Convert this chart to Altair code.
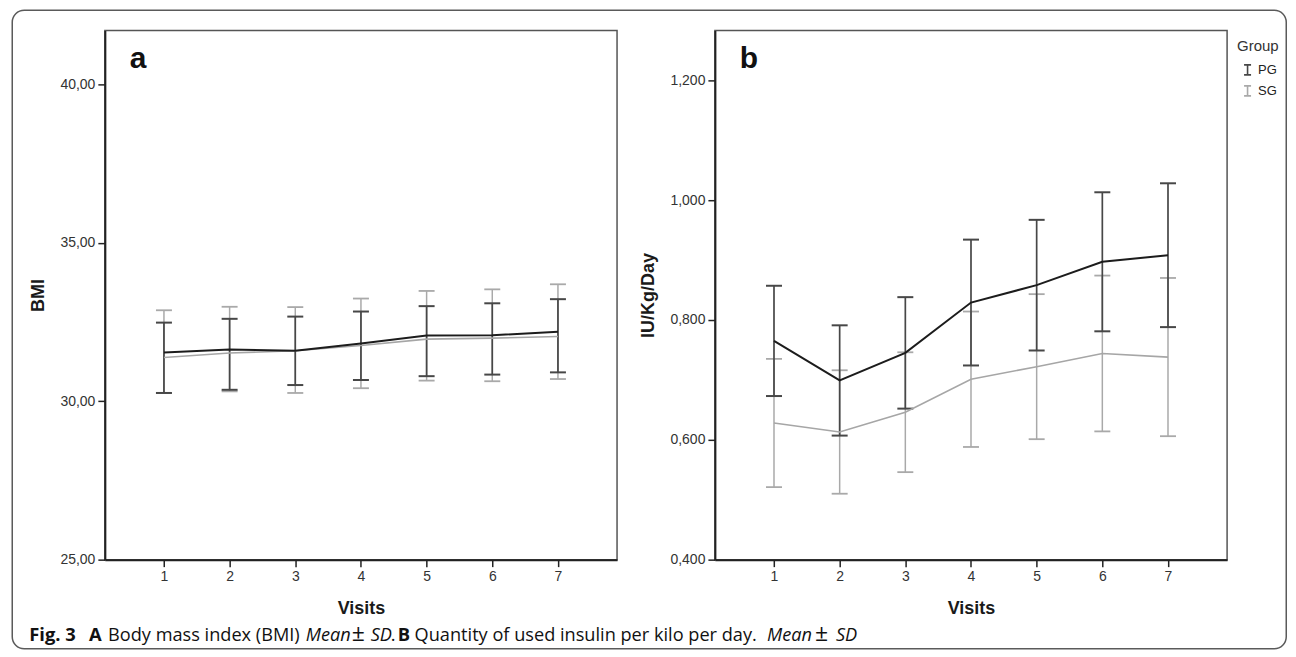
import altair as alt
import pandas as pd

# ---------------- data ----------------
visits = [1, 2, 3, 4, 5, 6, 7]
groups = ["PG", "SG"]

# Panel a: BMI (mean line and error bar ends)
bmi_pg_mean = [31.54, 31.63, 31.59, 31.82, 32.07, 32.08, 32.19]
bmi_pg_low = [30.26, 30.36, 30.51, 30.67, 30.79, 30.84, 30.91]
bmi_pg_high = [32.48, 32.60, 32.67, 32.83, 33.00, 33.09, 33.22]
bmi_sg_mean = [31.38, 31.52, 31.59, 31.76, 31.96, 31.99, 32.04]
bmi_sg_low = [30.26, 30.31, 30.26, 30.41, 30.65, 30.63, 30.70]
bmi_sg_high = [32.87, 32.98, 32.97, 33.24, 33.48, 33.53, 33.69]

# Panel b: IU/Kg/Day (mean and SD)
ins_pg_mean = [0.765, 0.699, 0.745, 0.829, 0.858, 0.897, 0.908]
ins_pg_sd = [0.092, 0.092, 0.093, 0.105, 0.109, 0.116, 0.120]
ins_sg_mean = [0.628, 0.613, 0.646, 0.701, 0.722, 0.744, 0.738]
ins_sg_sd = [0.107, 0.103, 0.100, 0.113, 0.121, 0.130, 0.132]

bmi_ticks = [25, 30, 35, 40]
ins_ticks = [0.4, 0.6, 0.8, 1.0, 1.2]

caption_bold = [("Fig. 3", 27), ("A", 87), ("B", 396)]
caption_regular = [("Body mass index (BMI)", 106),
                   ("Quantity of used insulin per kilo per day.", 413), (".", 389)]
caption_pm = [("\u00b1", 350), ("\u00b1", 814)]
caption_italic = [("Mean", 304), ("SD", 369), ("Mean", 766), ("SD", 835)]

# ---------------- tables ----------------
def table(pg_mean, pg_lo, pg_hi, sg_mean, sg_lo, sg_hi):
    rows = []
    for i, v in enumerate(visits):
        rows.append(dict(visit=v, group="PG", mean=pg_mean[i], lo=pg_lo[i], hi=pg_hi[i]))
        rows.append(dict(visit=v, group="SG", mean=sg_mean[i], lo=sg_lo[i], hi=sg_hi[i]))
    return pd.DataFrame(rows)

df_a = table(bmi_pg_mean, bmi_pg_low, bmi_pg_high, bmi_sg_mean, bmi_sg_low, bmi_sg_high)
df_b = table(
    ins_pg_mean,
    [m - s for m, s in zip(ins_pg_mean, ins_pg_sd)],
    [m + s for m, s in zip(ins_pg_mean, ins_pg_sd)],
    ins_sg_mean,
    [m - s for m, s in zip(ins_sg_mean, ins_sg_sd)],
    [m + s for m, s in zip(ins_sg_mean, ins_sg_sd)],
)

W, H = 513, 530
FONT = "Liberation Sans"
BAR_COLORS = ["#474747", "#a9a9a9"]
LINE_COLORS = ["#1c1c1c", "#a6a6a6"]


def panel(df, ydomain, yticks, decimals, ytitle, letter, legend):
    xenc = alt.X(
        "visit:Q",
        scale=alt.Scale(domain=[0.1, 7.9], nice=False, zero=False),
        axis=alt.Axis(values=visits, format="d", title="Visits", titleX=W / 2, titleY=49,
                      titleAlign="center", titleBaseline="middle", labelOverlap=False),
    )
    yaxis = alt.Axis(
        values=yticks,
        labelExpr=f"replace(format(datum.value, '.{decimals}f'), '.', ',')",
        title=ytitle, titleX=-66, titleY=H / 2, titleAngle=270,
        titleAlign="center", titleBaseline="middle", labelOverlap=False,
    )
    yscale = alt.Scale(domain=ydomain, nice=False, zero=False)
    color = alt.Color("group:N", scale=alt.Scale(domain=groups, range=BAR_COLORS), legend=legend)

    layers = []
    for g, w in (("SG", 1.5), ("PG", 1.7)):
        sub = alt.Chart(df).transform_filter(alt.datum.group == g)
        layers.append(sub.mark_rule(strokeWidth=w).encode(
            x=xenc, y=alt.Y("lo:Q", scale=yscale, axis=yaxis), y2="hi:Q", color=color))
        for end in ("lo", "hi"):
            layers.append(sub.mark_rule(strokeWidth=w + 0.3, xOffset=-8, x2Offset=8).encode(
                x=xenc, x2="visit:Q", y=alt.Y(f"{end}:Q", scale=yscale, axis=yaxis), color=color))
    for g, w in (("SG", 1.6), ("PG", 2.0)):
        sub = alt.Chart(df).transform_filter(alt.datum.group == g)
        layers.append(sub.mark_line(strokeWidth=w).encode(
            x=xenc, y=alt.Y("mean:Q", scale=yscale, axis=yaxis),
            stroke=alt.Stroke("group:N", scale=alt.Scale(domain=groups, range=LINE_COLORS), legend=None)))

    layers.append(alt.Chart(pd.DataFrame({"t": [letter]})).mark_text(
        font=FONT, fontSize=30, fontWeight="bold", align="left", baseline="alphabetic", color="#111"
    ).encode(text="t:N", x=alt.value(25), y=alt.value(38)))
    return layers


legend_b = alt.Legend(
    title="Group", orient="none", legendX=523, legendY=9, padding=0,
    titleFont=FONT, titleFontSize=15, titleFontWeight="normal", titleColor="#333", titlePadding=9,
    labelFont=FONT, labelFontSize=13, labelColor="#222", labelOffset=4,
    symbolType="M-0.7,-1H0.7M0,-1V1M-0.7,1H0.7", symbolSize=100, symbolStrokeWidth=1.6,
    symbolOffset=4, rowPadding=4,
)

layers_a = panel(df_a, [25, 41.7], bmi_ticks, 2, "BMI", "a", None)
layers_b = panel(df_b, [0.4, 1.283], ins_ticks, 3, "IU/Kg/Day", "b", legend_b)

# outer rounded frame and caption (decoration, in panel a's pixel frame)
ox, oy = 102.75, 28.75
one = pd.DataFrame({"t": [""]})
layers_a.append(alt.Chart(one).mark_rect(
    fill="white", fillOpacity=0, stroke="#5a5a5a", strokeWidth=1.5, cornerRadius=12
).encode(x=alt.value(10 - ox), x2=alt.value(1286 - ox), y=alt.value(8.5 - oy), y2=alt.value(648 - oy)))

cap_y = 640 - oy
for items, weight, style, size in ((caption_bold, "bold", "normal", 18.4),
                                   (caption_regular, "normal", "normal", 18.2),
                                   (caption_pm, "normal", "normal", 23),
                                   (caption_italic, "normal", "italic", 18.2)):
    for txt, xpos in items:
        layers_a.append(alt.Chart(pd.DataFrame({"t": [txt]})).mark_text(
            font="Open Sans", fontSize=size, fontWeight=weight, fontStyle=style,
            align="left", baseline="alphabetic", color="#111"
        ).encode(text="t:N", x=alt.value(xpos - ox), y=alt.value(cap_y)))

panel_a = alt.layer(*layers_a).properties(width=W, height=H)
panel_b = alt.layer(*layers_b).properties(width=W, height=H)

chart = (
    alt.hconcat(panel_a, panel_b, spacing=98, bounds="flush")
    .resolve_scale(color="independent", stroke="independent")
    .properties(padding={"left": 2, "top": 0, "right": 0, "bottom": 0}, background="white")
    .configure_view(stroke="#555", strokeWidth=1.5)
    .configure_axis(
        grid=False, labelFont=FONT, labelFontSize=14, labelColor="#333", labelPadding=3,
        tickColor="#222", tickSize=7, tickWidth=1.5, domainColor="#222", domainWidth=2,
        titleFont=FONT, titleFontSize=18, titleFontWeight="bold", titleColor="#1a1a1a",
    )
)

chart.save("out.html", embed_options={"renderer": "svg", "actions": False})
